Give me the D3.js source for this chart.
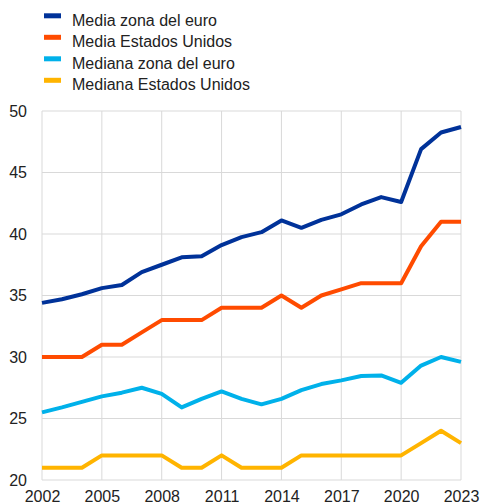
<!DOCTYPE html>
<html><head><meta charset="utf-8">
<script src="https://cdn.jsdelivr.net/npm/d3@7"></script>
<style>body{margin:0;background:#fff}svg{display:block}text{font-family:Arial,"Liberation Sans",sans-serif;fill:#222}</style>
</head><body>
<script>
const years = d3.range(2002, 2024);
const mediaEuro = [34.4,34.7,35.1,35.6,35.85,36.9,37.5,38.1,38.2,39.1,39.75,40.15,41.1,40.5,41.15,41.6,42.4,43.0,42.6,46.9,48.25,48.7];
const mediaUS = [30,30,30,31,31,32,33,33,33,34,34,34,35,34,35,35.5,36,36,36,39,41,41];
const medianaEuro = [25.5,25.9,26.35,26.8,27.1,27.5,27.0,25.9,26.6,27.2,26.6,26.15,26.6,27.3,27.8,28.1,28.45,28.5,27.9,29.3,30.0,29.6];
const medianaUS = [21,21,21,22,22,22,22,21,21,22,21,21,21,22,22,22,22,22,22,23,24,23];
const seriesNames = ["Media zona del euro","Media Estados Unidos","Mediana zona del euro","Mediana Estados Unidos"];
const seriesColors = ["#003299","#ff4b00","#00b1ea","#ffb400"];
const yTicks = [20,25,30,35,40,45,50];
const xTicks = [2002,2005,2008,2011,2014,2017,2020,2023];

const W=481,H=504;
const svg=d3.select("body").append("svg").attr("width",W).attr("height",H);
const x=d3.scaleLinear().domain([2002,2023]).range([42,461]);
const y=d3.scaleLinear().domain([20,50]).range([480,111]);
const grid="#d9d9d9";
svg.append("g").selectAll("line").data(yTicks).join("line")
 .attr("x1",42).attr("x2",461).attr("y1",d=>y(d)).attr("y2",d=>y(d)).attr("stroke",grid).attr("stroke-width",1);
svg.append("g").selectAll("line").data(xTicks).join("line")
 .attr("y1",111).attr("y2",480).attr("x1",d=>x(d)).attr("x2",d=>x(d)).attr("stroke",grid).attr("stroke-width",1);

const yAxis=d3.axisLeft(y).tickValues(yTicks).tickSize(0).tickPadding(15);
const gy=svg.append("g").attr("transform","translate(42,0)").call(yAxis);
gy.select(".domain").remove();
gy.selectAll("text").style("font-size","16px").style("font-family","Arial, 'Liberation Sans', sans-serif").attr("fill","#222");
const xAxis=d3.axisBottom(x).tickValues(xTicks).tickFormat(d3.format("d")).tickSize(0).tickPadding(10.5);
const gx=svg.append("g").attr("transform","translate(0,480)").call(xAxis);
gx.select(".domain").remove();
gx.selectAll("text").style("font-size","16px").style("font-family","Arial, 'Liberation Sans', sans-serif").attr("fill","#222");

const data=[mediaEuro,mediaUS,medianaEuro,medianaUS];
const line=d3.line().x((d,i)=>x(years[i])).y(d=>y(d));
[3,2,1,0].forEach(k=>{
 svg.append("path").datum(data[k]).attr("d",line).attr("fill","none")
  .attr("stroke",seriesColors[k]).attr("stroke-width",4).attr("stroke-linejoin","round");
});

const lg=svg.append("g");
seriesNames.forEach((n,i)=>{
 const yy=13.3+i*21.5;
 lg.append("rect").attr("x",44).attr("y",yy).attr("width",17).attr("height",5).attr("fill",seriesColors[i]);
 lg.append("text").attr("x",72).attr("y",yy+12.5).style("font-size","16px").text(n);
});
</script>
</body></html>
